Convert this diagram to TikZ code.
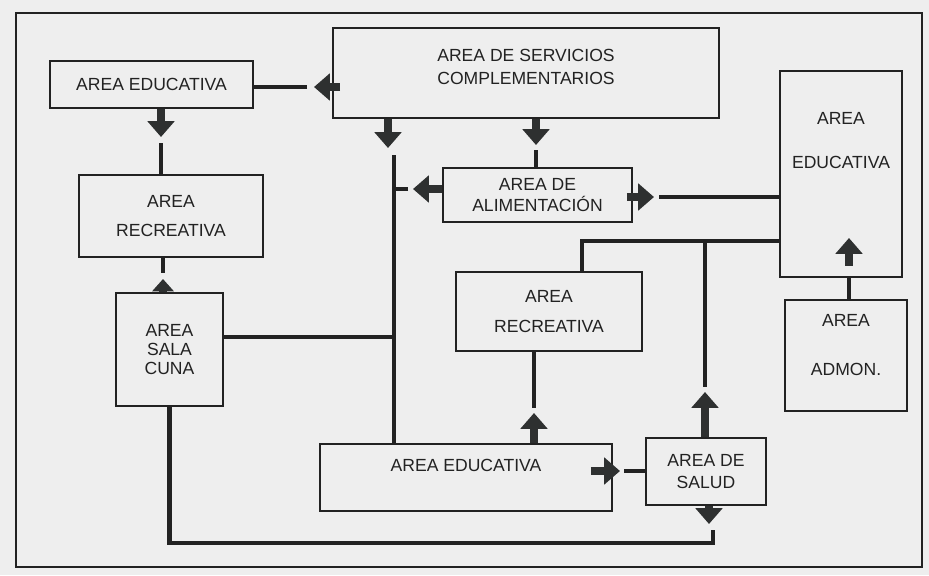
\documentclass[tikz,border=0pt]{standalone}
\usepackage{fontspec}
\setmainfont{Liberation Sans}
\usetikzlibrary{arrows.meta,calc}

\definecolor{papel}{HTML}{EEEEEE}
\definecolor{tinta}{HTML}{222222}
\definecolor{flechagris}{HTML}{2E3030}

\begin{document}
\begin{tikzpicture}[x=0.02cm, y=-0.02cm, font=\fontsize{10}{12}\selectfont,
	area/.style={draw=tinta, line width=1.1pt, fill=papel, text=tinta, align=center, inner sep=2pt},
	linea/.style={draw=tinta, line width=2.3pt},
	flecha/.style={draw=flechagris, line width=5pt, -{Triangle[width=15pt,length=9pt]}}]
	\useasboundingbox (0,0) rectangle (929,575);
	\fill[papel] (0,0) rectangle (929,575);
	\draw[tinta, line width=1.2pt] (16,13) rectangle (922,567);

	% --- Areas ---
	\node[area, minimum width=4.06cm, minimum height=0.94cm] (eduA) at (151.5,84.5) {AREA EDUCATIVA};
	\node[area, minimum width=7.72cm, minimum height=1.8cm, text depth=7pt] (serv) at (526,73) {AREA DE SERVICIOS\\[1pt]COMPLEMENTARIOS};
	\node[area, minimum width=3.68cm, minimum height=1.64cm] (recA) at (171,216) {AREA\\[5pt]RECREATIVA};
	\node[area, minimum width=2.14cm, minimum height=2.26cm] (cuna) at (169.5,349.5) {AREA\\[-1pt]SALA\\[-1pt]CUNA};
	\node[area, minimum width=3.78cm, minimum height=1.08cm] (alim) at (537.5,195) {AREA DE\\ALIMENTACIÓN};
	\node[area, minimum width=2.44cm, minimum height=4.12cm, text depth=38pt] (eduR) at (841,174) {AREA\\[13pt]EDUCATIVA};
	\node[area, minimum width=3.72cm, minimum height=1.58cm] (recB) at (549,311.5) {AREA\\[5pt]RECREATIVA};
	\node[area, minimum width=2.44cm, minimum height=2.22cm, text depth=12pt] (admon) at (846,355.5) {AREA\\[16pt]ADMON.};
	\node[area, minimum width=5.84cm, minimum height=1.34cm, text depth=14pt] (eduB) at (466,477.5) {AREA EDUCATIVA};
	\node[area, minimum width=2.4cm, minimum height=1.34cm] (salud) at (706,471.5) {AREA DE\\SALUD};

	% --- Servicios -> Educativa ---
	\coordinate (t1) at (314,87);
	\draw[flecha] ($(serv.west |- t1)+(8,0)$) -- (t1);
	\draw[linea] ($(t1)+(-7,0)$) -- (t1 -| eduA.east);

	% --- Educativa -> Recreativa ---
	\coordinate (t2) at (161,137);
	\draw[flecha] (t2 |- eduA.south) -- (t2);
	\draw[linea] ($(t2)+(0,6)$) -- (t2 |- recA.north);

	% --- Sala cuna -> Recreativa ---
	\coordinate (t3) at (163,279);
	\draw[flecha, -{Triangle[width=12pt,length=7pt]}] (t3 |- cuna.north) -- (t3);
	\draw[linea] (t3 |- recA.south) -- ($(t3)+(0,-6)$);

	% --- Servicios -> eje central ---
	\coordinate (t4) at (388,148);
	\draw[flecha] (t4 |- serv.south) -- (t4);
	\coordinate (v4) at (394,155);
	\draw[linea] (v4) -- (v4 |- eduB.north);

	% --- Alimentacion -> eje central ---
	\coordinate (t5) at (413,189);
	\draw[flecha] (t5 -| alim.west) -- (t5);
	\draw[linea] ($(t5)+(-5,0)$) -- (t5 -| v4);

	% --- Sala cuna -> eje central ---
	\coordinate (j6) at (394,337);
	\draw[linea] (j6 -| cuna.east) -- (j6);

	% --- Servicios -> Alimentacion ---
	\coordinate (t7) at (536,145);
	\draw[flecha] (t7 |- serv.south) -- (t7);
	\draw[linea] ($(t7)+(0,5)$) -- (t7 |- alim.north);

	% --- Alimentacion -> Educativa ---
	\coordinate (t8) at (654,197);
	\draw[flecha] ($(t8 -| alim.east)+(-6,0)$) -- (t8);
	\draw[linea] ($(t8)+(5,0)$) -- (t8 -| eduR.west);

	% --- Educativa / Recreativa / Salud ---
	\coordinate (j9) at (705,241);
	\coordinate (k9) at (582,241);
	\draw[linea] (j9 -| eduR.west) -- (k9) -- (k9 |- recB.north);
	\coordinate (t9) at (705,392);
	\draw[linea] (j9) -- ($(t9)+(0,-5)$);
	\draw[flecha] (t9 |- salud.north) -- (t9);

	% --- Admon -> Educativa ---
	\coordinate (t10) at (849,238);
	\draw[linea] (t10 |- admon.north) -- (t10 |- eduR.south);
	\draw[flecha] ($(t10 |- eduR.south)+(0,-12)$) -- (t10);

	% --- Educativa -> Recreativa ---
	\coordinate (t11) at (534,413);
	\draw[flecha] (t11 |- eduB.north) -- (t11);
	\draw[linea] (t11 |- recB.south) -- ($(t11)+(0,-5)$);

	% --- Educativa -> Salud ---
	\coordinate (t12) at (620,471);
	\draw[flecha] ($(t12 -| eduB.east)+(-22,0)$) -- (t12);
	\draw[linea] ($(t12)+(4,0)$) -- (t12 -| salud.west);

	% --- Salud -> Sala cuna ---
	\coordinate (t13) at (709,524);
	\draw[flecha] (t13 |- salud.south) -- (t13);
	\coordinate (c13) at (713,543);
	\draw[linea] ($(t13)+(4,6)$) -- (c13) -- (c13 -| cuna.south) -- (cuna.south);
\end{tikzpicture}
\end{document}
